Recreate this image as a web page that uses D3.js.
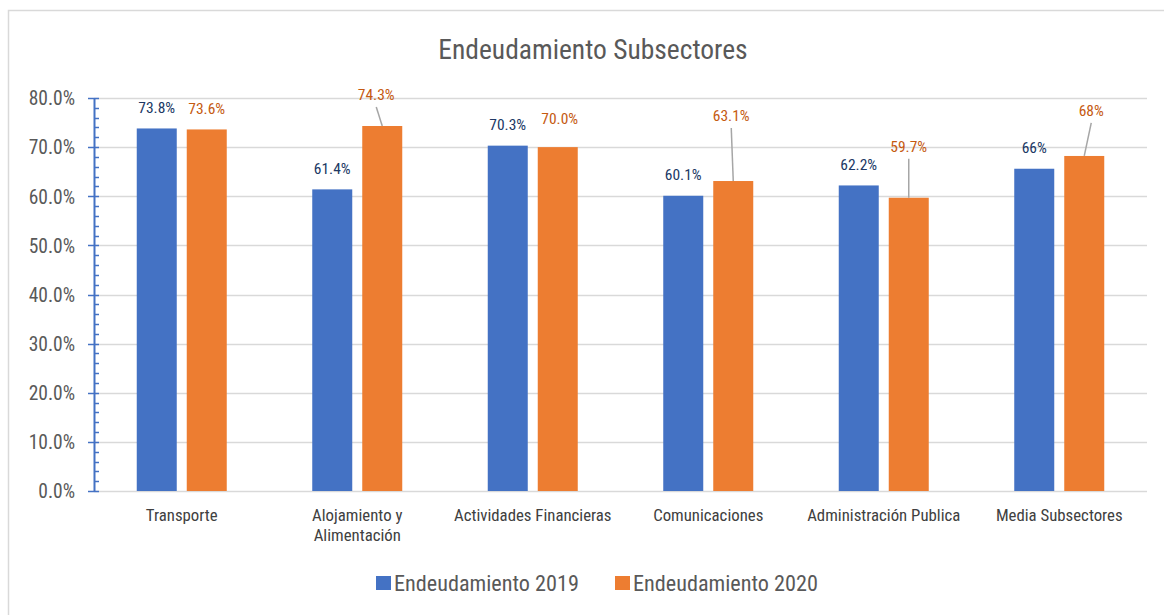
<!DOCTYPE html>
<html>
<head>
<meta charset="utf-8">
<script src="https://cdn.jsdelivr.net/npm/d3@7"></script>
<style>
html,body{margin:0;padding:0;background:#fff;}
svg{display:block;}
text{font-family:"Liberation Sans Narrow","Arial Narrow","Roboto Condensed","Liberation Sans",Arial,sans-serif;}
</style>
</head>
<body>
<svg id="chart" width="1164" height="615"></svg>
<script>
// ---- data ----
const categories = [["Transporte"], ["Alojamiento y", "Alimentación"], ["Actividades Financieras"], ["Comunicaciones"], ["Administración Publica"], ["Media Subsectores"]];
const seriesNames = ["Endeudamiento 2019", "Endeudamiento 2020"];
const values2019 = [73.8, 61.4, 70.3, 60.1, 62.2, 65.6];
const values2020 = [73.6, 74.3, 70.0, 63.1, 59.7, 68.2];
const labels2019 = ["73.8%", "61.4%", "70.3%", "60.1%", "62.2%", "66%"];
const labels2020 = ["73.6%", "74.3%", "70.0%", "63.1%", "59.7%", "68%"];
const yTicks = [0, 10, 20, 30, 40, 50, 60, 70, 80];
const title = "Endeudamiento Subsectores";

// ---- layout / style ----
const colors = ["#4472C4", "#ED7D31"];
const labelColors = ["#203864", "#C55A11"];
// manual label offsets (px) for the 2020 labels, as placed in the original
const offsets2020 = [[0,0],[-6,-10],[2,-8],[-2,-44],[0,-30],[7,-24]];

const svg = d3.select("#chart");
const W = 1164, H = 615;
const m = {left: 94, right: 17, top: 98, bottom: 124};
const plotW = W - m.left - m.right, plotH = H - m.top - m.bottom;

// frame
svg.append("rect").attr("x", 8.5).attr("y", 10.5).attr("width", 1200).attr("height", 700)
  .attr("fill", "#fff").attr("stroke", "#d9d9d9").attr("stroke-width", 1.5);

const x0 = d3.scaleBand().domain(d3.range(categories.length)).range([m.left, m.left + plotW]).paddingInner(0).paddingOuter(0);
const y = d3.scaleLinear().domain([0, 80]).range([m.top + plotH, m.top]);
const barW = 40, barGap = 10;

// title
svg.append("text").attr("x", 593).attr("y", 59).attr("text-anchor", "middle")
  .attr("font-size", 27.5).attr("fill", "#595959").text(title);

// gridlines
svg.append("g").selectAll("line").data(yTicks).join("line")
  .attr("x1", m.left).attr("x2", m.left + plotW)
  .attr("y1", d => Math.round(y(d)) + 0.5).attr("y2", d => Math.round(y(d)) + 0.5)
  .attr("stroke", "#d9d9d9").attr("stroke-width", 1.5);

// bars
const seriesVals = [values2019, values2020];
const g = svg.append("g");
seriesVals.forEach((vals, s) => {
  g.selectAll(null).data(vals).join("rect")
    .attr("x", (d, i) => x0(i) + x0.bandwidth() / 2 - barW - barGap / 2 + s * (barW + barGap))
    .attr("y", d => y(d))
    .attr("width", barW)
    .attr("height", d => y(0) - y(d))
    .attr("fill", colors[s]);
});

// y axis (blue) with minor ticks
const yAxis = d3.axisLeft(y).tickValues(yTicks).tickFormat(d => d.toFixed(1) + "%").tickSize(0).tickPadding(19);
const ya = svg.append("g").attr("transform", `translate(${m.left},0)`).call(yAxis);
ya.select(".domain").attr("stroke", "#4472C4").attr("stroke-width", 2);
ya.selectAll("text").attr("font-size", 19.5).attr("fill", "#595959").attr("dy", "0.35em")
  .style("font-family", '"Liberation Sans Narrow","Arial Narrow","Roboto Condensed","Liberation Sans",Arial,sans-serif');
const minor = d3.range(0, 80.1, 2);
svg.append("g").selectAll("line").data(minor).join("line")
  .attr("x1", d => d % 10 === 0 ? m.left - 6 : m.left)
  .attr("x2", m.left + 5)
  .attr("y1", d => Math.round(y(d)) + 0.5).attr("y2", d => Math.round(y(d)) + 0.5)
  .attr("stroke", "#4472C4").attr("stroke-width", 1.5);

// x category labels
const xl = svg.append("g");
categories.forEach((lines, i) => {
  const t = xl.append("text").attr("x", x0(i) + x0.bandwidth() / 2).attr("y", 521)
    .attr("text-anchor", "middle").attr("font-size", 16.8).attr("fill", "#404040");
  lines.forEach((ln, k) => t.append("tspan").attr("x", x0(i) + x0.bandwidth() / 2).attr("dy", k === 0 ? 0 : 20).text(ln));
});

// data labels
const labelSets = [labels2019, labels2020];
seriesVals.forEach((vals, s) => {
  vals.forEach((v, i) => {
    const cx = x0(i) + x0.bandwidth() / 2 - barW / 2 - barGap / 2 + s * (barW + barGap);
    const off = s === 1 ? offsets2020[i] : [0, 0];
    const lx = cx + off[0], ly = y(v) - 21 + off[1];
    if (Math.abs(off[1]) >= 10) {
      svg.append("line").attr("x1", lx).attr("y1", ly + 12).attr("x2", cx).attr("y2", y(v))
        .attr("stroke", "#a6a6a6").attr("stroke-width", 1.5);
    }
    svg.append("text").attr("x", lx).attr("y", ly).attr("dy", "0.35em")
      .attr("text-anchor", "middle").attr("font-size", 15.5).attr("fill", labelColors[s])
      .text(labelSets[s][i]);
  });
});

// legend
const legX = [376, 615];
seriesNames.forEach((n, s) => {
  svg.append("rect").attr("x", legX[s]).attr("y", 576).attr("width", 15).attr("height", 14).attr("fill", colors[s]);
  svg.append("text").attr("x", legX[s] + 18).attr("y", 583).attr("dy", "0.35em")
    .attr("font-size", 22.2).attr("fill", "#595959").text(n);
});
</script>
</body>
</html>
